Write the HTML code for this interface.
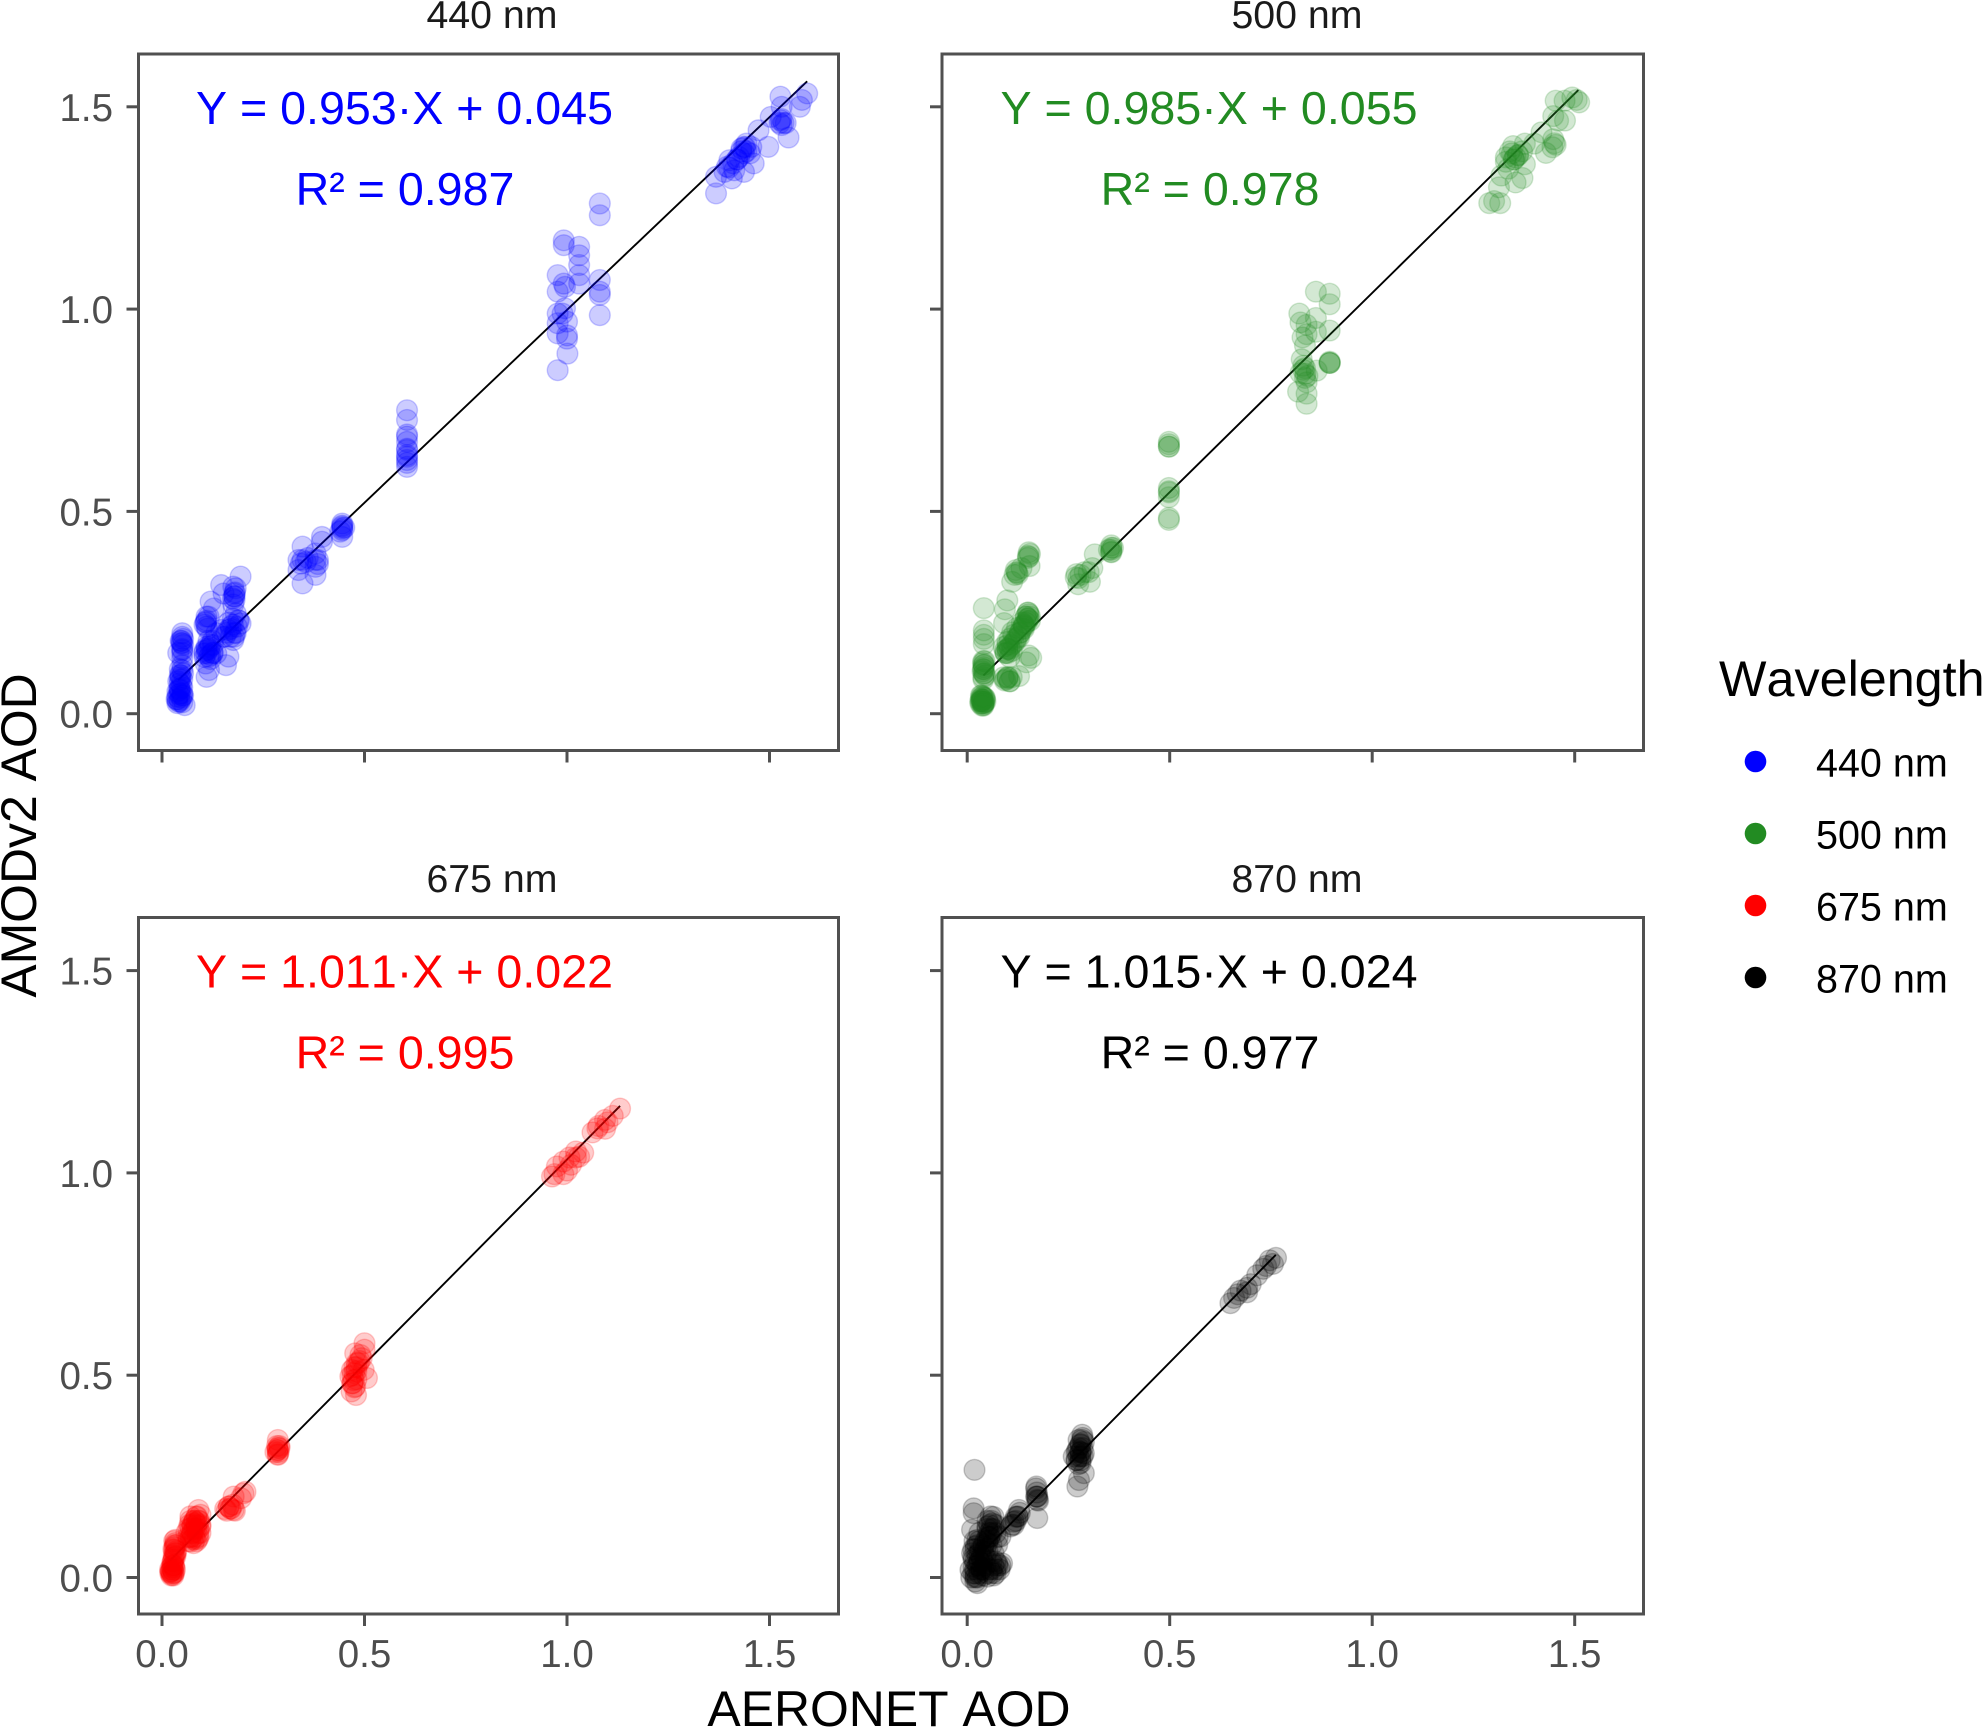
<!DOCTYPE html>
<html lang="en">
<head>
<meta charset="utf-8">
<title>AMODv2 AOD vs AERONET AOD</title>
<style>
html,body{margin:0;padding:0;background:#fff;}
svg{display:block;font-family:"Liberation Sans",Arial,sans-serif;font-kerning:none;}
.frame{fill:none;stroke:#505050;stroke-width:3;}
.title{font-size:39.3px;fill:#1a1a1a;text-anchor:middle;}
.note{font-size:46.6px;text-anchor:middle;}
.tick{font-size:38.5px;fill:#4d4d4d;}
.axis{font-size:49.9px;fill:#000;text-anchor:middle;}
.lg{font-size:39.5px;fill:#000;}
</style>
</head>
<body>
<svg id="chart" xmlns="http://www.w3.org/2000/svg" width="1985" height="1728" viewBox="0 0 1985 1728">
<rect width="1985" height="1728" fill="#fff"/>
<g id="marks"></g>

<rect class="frame" x="138.5" y="54" width="700" height="696.5"/>
<rect class="frame" x="942" y="54" width="701.5" height="696.5"/>
<rect class="frame" x="138.5" y="917.5" width="700" height="696.5"/>
<rect class="frame" x="942" y="917.5" width="701.5" height="696.5"/>

<text class="title" x="492" y="28">440 nm</text>
<text class="title" x="1297" y="28">500 nm</text>
<text class="title" x="492" y="892">675 nm</text>
<text class="title" x="1297" y="892">870 nm</text>

<text class="note" x="404.5" y="124" fill="#0000ff">Y = 0.953·X + 0.045</text>
<text class="note" x="405" y="205" fill="#0000ff">R² = 0.987</text>
<text class="note" x="1209" y="124" fill="#228b22">Y = 0.985·X + 0.055</text>
<text class="note" x="1210" y="205" fill="#228b22">R² = 0.978</text>
<text class="note" x="404.5" y="987.5" fill="#ff0000">Y = 1.011·X + 0.022</text>
<text class="note" x="405" y="1068.5" fill="#ff0000">R² = 0.995</text>
<text class="note" x="1209" y="987.5" fill="#000000">Y = 1.015·X + 0.024</text>
<text class="note" x="1210" y="1068.5" fill="#000000">R² = 0.977</text>

<text class="axis" x="889" y="1726">AERONET AOD</text>
<text class="axis" x="0" y="0" transform="translate(36 835.5) rotate(-90)">AMODv2 AOD</text>

<g>
<text x="1719" y="696" style="font-size:50.3px" fill="#000">Wavelength</text>
<circle cx="1755.5" cy="761.5" r="10.8" fill="#0000ff"/>
<text class="lg" x="1816" y="776.5">440 nm</text>
<circle cx="1755.5" cy="833.5" r="10.8" fill="#228b22"/>
<text class="lg" x="1816" y="848.5">500 nm</text>
<circle cx="1755.5" cy="905.5" r="10.8" fill="#ff0000"/>
<text class="lg" x="1816" y="920.5">675 nm</text>
<circle cx="1755.5" cy="977.5" r="10.8" fill="#000000"/>
<text class="lg" x="1816" y="992.5">870 nm</text>
</g>
</svg>

<script>
const tickValues = [0, 0.5, 1, 1.5];
const tickLabels = ["0.0", "0.5", "1.0", "1.5"];
const wavelengths = ["440", "500", "675", "870"];
const seriesColors = ["#0000ff", "#228b22", "#ff0000", "#000000"];
const fitSlopes = [0.953, 0.985, 1.011, 1.015];
const fitIntercepts = [0.045, 0.055, 0.022, 0.024];
const fitStarts = [0.04, 0.04, 0.02, 0.02];
const fitEnds = [1.593, 1.509, 1.131, 0.762];

const x440 = [1.593,1.58,1.527,1.53,1.575,1.503,1.527,1.53,1.54,1.547,1.473,1.497,1.455,1.437,1.437,1.425,1.401,1.395,1.413,1.437,1.461,1.368,1.368,1.389,1.407,1.443,1.431,1.443,1.452,1.42,
0.977,1.001,1,1,0.977,1,0.977,0.995,0.989,0.977,0.995,0.977,0.977,0.992,1.03,1.03,1.03,1.03,1.03,0.992,0.992,1.081,1.081,1.081,1.081,1.081,1.081,
0.605,0.605,0.605,0.605,0.605,0.605,0.605,0.605,0.605,0.445,0.445,0.445,0.445,0.445,0.395,0.395,0.379,0.379,0.379,0.379,0.347,0.347,0.347,0.337,0.337,0.343,
0.194,0.179,0.179,0.176,0.179,0.146,0.152,0.12,0.128,0.108,0.11,0.11,0.188,0.182,0.194,0.182,0.176,0.164,0.146,0.134,0.112,0.116,0.108,0.11,0.116,0.158,0.164,0.134,0.104,0.118,0.126,0.17,0.178,0.155,0.12,0.11,0.125,
0.05,0.05,0.05,0.05,0.044,0.05,0.044,0.038,0.044,0.056,0.038,0.05,0.044,0.044,0.05,0.038,0.04,0.048,0.042,0.036,0.052,0.05,0.044,0.046,0.04,
0.045,0.05,0.042,0.048,0.04,0.046,0.052,0.038,0.044,0.05,
0.044,0.05,0.046,0.05,0.052,0.048,0.05,0.05,0.048,0.052,
0.105,0.11,0.115,0.12,0.125,0.11,0.115,0.12,0.105,0.125,
0.15,0.16,0.17,0.175,0.18,0.185,0.165,0.175,0.17,0.19,
0.175,0.18,0.178,0.182,0.176,0.105,0.11,0.112,0.108,0.115,
0.445,0.44,0.45,0.605,0.605,0.605,0.385,0.355,0.36,0.385,
1.43,1.44,1.42,1.41,1.4,1.53,1.525,1.535];
const y440 = [1.533,1.517,1.525,1.5,1.5,1.475,1.467,1.455,1.46,1.424,1.442,1.401,1.401,1.401,1.385,1.376,1.368,1.352,1.343,1.339,1.36,1.327,1.286,1.339,1.323,1.409,1.397,1.39,1.385,1.37,
0.849,0.89,0.927,0.935,0.94,0.969,0.989,1.002,0.989,0.965,1.055,1.084,1.043,1.063,1.063,1.084,1.109,1.133,1.154,1.158,1.17,1.261,1.232,0.985,1.035,1.043,1.072,
0.75,0.726,0.685,0.672,0.652,0.639,0.627,0.61,0.69,0.462,0.454,0.437,0.47,0.458,0.437,0.425,0.38,0.363,0.343,0.396,0.413,0.38,0.322,0.38,0.355,0.371,
0.339,0.297,0.281,0.314,0.29,0.318,0.297,0.277,0.26,0.227,0.215,0.24,0.231,0.248,0.223,0.199,0.182,0.207,0.207,0.199,0.157,0.141,0.124,0.091,0.108,0.12,0.141,0.149,0.149,0.165,0.17,0.215,0.19,0.19,0.135,0.16,0.15,
0.199,0.174,0.157,0.137,0.096,0.108,0.058,0.042,0.034,0.021,0.026,0.05,0.075,0.085,0.065,0.055,0.03,0.04,0.048,0.036,0.045,0.028,0.062,0.18,0.15,
0.05,0.045,0.06,0.07,0.08,0.09,0.1,0.035,0.03,0.085,
0.11,0.12,0.095,0.16,0.17,0.18,0.19,0.15,0.175,0.185,
0.14,0.15,0.16,0.17,0.15,0.165,0.18,0.145,0.155,0.18,
0.19,0.2,0.21,0.22,0.2,0.215,0.225,0.235,0.19,0.23,
0.285,0.3,0.29,0.31,0.27,0.22,0.23,0.21,0.225,0.24,
0.465,0.45,0.46,0.635,0.655,0.62,0.38,0.375,0.385,0.37,
1.39,1.4,1.37,1.36,1.35,1.47,1.46,1.46];

const x500 = [1.505,1.494,1.453,1.475,1.511,1.459,1.447,1.476,1.418,1.447,1.453,1.429,1.4,1.377,1.348,1.33,1.36,1.33,1.377,1.371,1.354,1.319,1.336,1.289,1.316,1.301,1.354,1.313,1.34,1.35,
0.861,0.895,0.895,0.895,0.895,0.895,0.895,0.82,0.823,0.861,0.861,0.838,0.838,0.834,0.826,0.823,0.834,0.838,0.817,0.838,0.838,0.863,0.834,0.83,0.828,
0.498,0.498,0.498,0.498,0.498,0.498,0.498,0.498,0.498,0.498,0.356,0.356,0.356,0.356,0.315,0.309,0.303,0.28,0.268,0.274,0.29,
0.152,0.152,0.154,0.123,0.117,0.134,0.111,0.099,0.093,0.041,0.041,0.041,0.041,0.041,
0.152,0.149,0.14,0.123,0.111,0.099,0.093,0.105,0.128,0.091,0.152,0.158,0.146,0.128,0.099,0.093,0.11,0.145,0.135,0.15,0.1,0.115,0.09,0.1,0.13,0.14,0.105,0.095,0.1,0.105,0.155,0.15,
0.041,0.041,0.041,0.037,0.034,0.042,0.037,0.032,0.04,0.036,0.038,0.034,0.044,0.04,0.045,0.04,
0.035,0.038,0.04,0.042,0.036,0.033,0.04,0.037,0.043,0.039,0.035,0.041,
0.04,0.042,0.039,0.041,0.043,0.04,0.038,0.044,0.041,0.039,
0.1,0.105,0.11,0.115,0.12,0.125,0.13,0.135,0.14,0.145,
0.15,0.155,0.15,0.145,0.14,0.095,0.1,0.105,0.11,0.12,
0.095,0.1,0.09,0.105,0.122,0.125,0.12,0.15,0.155,0.15,
0.36,0.355,0.35,0.3,0.275,0.27,0.895,0.835,0.83,0.84,
1.35,1.36,1.345,1.37,1.45,1.445];
const y500 = [1.517,1.523,1.515,1.515,1.511,1.466,1.477,1.466,1.437,1.42,1.406,1.386,1.409,1.409,1.403,1.375,1.381,1.364,1.358,1.324,1.313,1.33,1.347,1.262,1.262,1.267,1.375,1.301,1.39,1.37,
1.043,1.038,1.012,0.947,0.867,0.867,0.867,0.989,0.967,0.978,0.944,0.961,0.938,0.91,0.876,0.842,0.83,0.819,0.796,0.791,0.766,0.848,0.854,0.86,0.93,
0.666,0.66,0.672,0.66,0.558,0.547,0.535,0.55,0.484,0.479,0.416,0.405,0.399,0.41,0.394,0.36,0.326,0.343,0.337,0.32,0.35,
0.399,0.388,0.365,0.348,0.343,0.36,0.326,0.28,0.258,0.261,0.206,0.195,0.172,0.185,
0.246,0.229,0.218,0.212,0.201,0.178,0.155,0.165,0.189,0.224,0.144,0.138,0.127,0.093,0.087,0.082,0.09,0.24,0.225,0.235,0.17,0.195,0.165,0.16,0.2,0.21,0.185,0.15,0.09,0.08,0.23,0.25,
0.121,0.099,0.11,0.031,0.037,0.028,0.042,0.03,0.022,0.035,0.025,0.045,0.038,0.02,0.03,0.13,
0.03,0.035,0.025,0.04,0.045,0.025,0.03,0.02,0.035,0.042,0.032,0.027,
0.09,0.1,0.11,0.12,0.13,0.085,0.105,0.095,0.115,0.125,
0.15,0.16,0.17,0.175,0.185,0.19,0.2,0.21,0.22,0.225,
0.235,0.24,0.25,0.24,0.215,0.15,0.16,0.14,0.155,0.18,
0.085,0.09,0.09,0.08,0.35,0.345,0.355,0.39,0.395,0.385,
0.41,0.4,0.405,0.35,0.335,0.345,0.87,0.84,0.85,0.835,
1.37,1.38,1.385,1.39,1.41,1.4];

const x675 = [0.5,0.5,0.498,0.506,0.493,0.477,0.481,0.469,0.473,0.477,0.479,0.465,0.488,0.47,0.475,0.48,0.468,
0.286,0.286,0.286,0.286,0.288,0.29,0.201,0.206,0.177,0.169,0.156,0.177,0.165,0.195,
0.09,0.086,0.07,0.078,0.095,0.074,0.07,0.09,0.085,0.08,0.075,0.092,0.088,0.065,0.072,0.068,0.095,0.082,0.078,0.085,
0.033,0.03,0.033,0.025,0.022,0.025,0.03,0.02,0.035,0.032,0.028,0.027,0.03,0.024,0.028,
1.131,1.113,1.094,1.078,1.063,1.075,1.022,1.006,0.991,0.975,0.969,0.963,1,1.022,0.991,1.094,1.04,1.03,1.01,1.1,
0.03,0.032,0.028,0.034,0.03,0.033,0.029,0.031,0.035,0.027,0.03,0.032,
0.025,0.022,0.028,0.024,0.02,0.026,0.023,0.027,
0.065,0.07,0.075,0.08,0.085,0.09,0.095,0.07,0.075,0.08,0.085,0.09,0.065,0.07,0.08,0.09,0.095,0.085,0.075,0.06,
0.28,0.285,0.29,0.286,0.284,0.16,0.17,0.165,0.175,0.18,
0.47,0.475,0.48,0.47,0.485,0.49,0.48,0.475];
const y675 = [0.579,0.563,0.513,0.493,0.542,0.554,0.53,0.513,0.488,0.472,0.451,0.497,0.535,0.48,0.505,0.52,0.46,
0.34,0.32,0.315,0.303,0.31,0.325,0.208,0.212,0.2,0.171,0.169,0.167,0.176,0.196,
0.167,0.151,0.151,0.134,0.126,0.11,0.089,0.11,0.12,0.14,0.125,0.14,0.095,0.12,0.1,0.13,0.155,0.095,0.085,0.135,
0.093,0.068,0.052,0.035,0.015,0.007,0.025,0.02,0.08,0.06,0.045,0.03,0.012,0.01,0.005,
1.159,1.141,1.131,1.116,1.1,1.11,1.053,1.038,1.028,1.016,0.997,0.991,1.006,1.038,0.997,1.109,1.05,1.04,1.02,1.125,
0.09,0.08,0.07,0.06,0.05,0.085,0.055,0.075,0.065,0.04,0.03,0.02,
0.02,0.015,0.01,0.025,0.012,0.03,0.005,0.018,
0.09,0.1,0.11,0.12,0.13,0.14,0.13,0.12,0.13,0.14,0.15,0.12,0.1,0.14,0.1,0.1,0.11,0.09,0.095,0.11,
0.31,0.315,0.32,0.305,0.325,0.165,0.17,0.175,0.18,0.165,
0.5,0.52,0.49,0.48,0.53,0.55,0.51,0.47];

const x870 = [0.018,0.016,0.016,0.012,
0.284,0.284,0.28,0.272,0.28,0.263,0.288,0.28,0.288,0.276,0.272,0.288,0.28,0.275,0.27,0.285,
0.171,0.173,0.173,0.173,0.128,0.124,0.115,0.107,0.12,
0.058,0.062,0.05,0.054,0.082,0.025,0.021,0.012,0.016,0.016,0.021,0.025,0.074,0.082,0.086,0.062,0.05,0.041,0.008,0.033,0.05,0.074,0.037,0.02,0.028,0.045,0.055,0.03,0.015,0.025,0.06,0.065,0.04,0.02,0.035,0.05,0.03,0.018,0.045,0.07,0.04,
0.7625,0.747,0.731,0.716,0.691,0.675,0.659,0.65,0.691,0.755,0.738,0.7,0.668,
0.01,0.015,0.02,0.025,0.03,0.035,0.04,0.02,0.025,0.03,0.035,0.015,0.02,0.025,0.03,0.04,0.045,0.05,0.02,0.03,
0.05,0.055,0.06,0.065,0.07,0.06,0.055,0.05,0.065,0.07,0.045,0.05,0.06,0.075,
0.06,0.065,0.07,0.075,0.08,0.07,0.06,0.065,0.05,0.055,
0.27,0.275,0.28,0.285,0.28,0.275,0.285,0.27,0.28,0.275,
0.125,0.13,0.12,0.115,0.11,0.17,0.172,0.175,0.17,0.172];
const y870 = [0.266,0.171,0.159,0.118,
0.353,0.34,0.328,0.315,0.299,0.299,0.307,0.283,0.258,0.241,0.225,0.335,0.31,0.32,0.29,0.345,
0.225,0.2,0.192,0.147,0.167,0.151,0.138,0.126,0.15,
0.151,0.134,0.126,0.11,0.101,0.093,0.077,0.06,0.044,0.027,0.002,-0.014,0.035,0.03,0.035,0.011,0.002,0.019,0.019,0.068,0.085,0.081,0.044,0.01,0.03,0.05,0.1,0.11,0.07,0.055,0.12,0.06,0.075,0,0.02,0.065,0.04,0.09,0.03,0.02,0.005,
0.79,0.784,0.763,0.747,0.716,0.709,0.691,0.678,0.705,0.775,0.77,0.725,0.7,
0,0.01,0.02,0.03,0.04,0.05,0.06,-0.01,0,0.01,0.02,0.05,0.07,0.08,0.09,0.08,0.09,0.1,0.04,0.06,
0.12,0.13,0.14,0.15,0.13,0.11,0.1,0.09,0.12,0.11,0.07,0.14,0.08,0.1,
0.02,0.03,0.04,0.03,0.02,0.01,0.04,0.005,0.01,0.02,
0.29,0.3,0.31,0.32,0.33,0.34,0.3,0.31,0.29,0.28,
0.15,0.16,0.14,0.13,0.13,0.2,0.21,0.19,0.22,0.2];

const seriesX = [x440, x500, x675, x870];
const seriesY = [y440, y500, y675, y870];

const SVGNS = "http://www.w3.org/2000/svg";
const marks = document.getElementById("marks");
const plotLeft = [162, 967.2, 162, 967.2];
const plotZero = [713.7, 713.7, 1577.5, 1577.5];
const plotBottom = [750.5, 750.5, 1614, 1614];
const plotEdge = [138.5, 942, 138.5, 942];
const unitX = 405;
const unitY = 404.6;

function scaleX(panel, v) { return plotLeft[panel] + v * unitX; }
function scaleY(panel, v) { return plotZero[panel] - v * unitY; }

for (let p = 0; p < 4; p++) {
  const w = wavelengths[p];

  const fit = document.createElementNS(SVGNS, "line");
  fit.setAttribute("x1", scaleX(p, fitStarts[p]));
  fit.setAttribute("y1", scaleY(p, fitSlopes[p] * fitStarts[p] + fitIntercepts[p]));
  fit.setAttribute("x2", scaleX(p, fitEnds[p]));
  fit.setAttribute("y2", scaleY(p, fitSlopes[p] * fitEnds[p] + fitIntercepts[p]));
  fit.setAttribute("stroke", "#000");
  fit.setAttribute("stroke-width", "1.9");
  
  
  marks.appendChild(fit);

  const xs = seriesX[p];
  const ys = seriesY[p];
  const n = Math.min(xs.length, ys.length);
  for (let i = 0; i < n; i++) {
    const c = document.createElementNS(SVGNS, "circle");
    c.setAttribute("cx", scaleX(p, xs[i]));
    c.setAttribute("cy", scaleY(p, ys[i]));
    c.setAttribute("r", "10.4");
    c.setAttribute("fill", seriesColors[p]);
    c.setAttribute("fill-opacity", "0.2");
    c.setAttribute("stroke", seriesColors[p]);
    c.setAttribute("stroke-opacity", "0.2");
    c.setAttribute("stroke-width", "1.4");
    
    
    marks.appendChild(c);
  }

  for (let t = 0; t < tickValues.length; t++) {
    const xt = document.createElementNS(SVGNS, "line");
    const px = scaleX(p, tickValues[t]);
    xt.setAttribute("x1", px);
    xt.setAttribute("x2", px);
    xt.setAttribute("y1", plotBottom[p]);
    xt.setAttribute("y2", plotBottom[p] + 12);
    xt.setAttribute("stroke", "#505050");
    xt.setAttribute("stroke-width", "3");
    
    
    marks.appendChild(xt);

    const yt = document.createElementNS(SVGNS, "line");
    const py = scaleY(p, tickValues[t]);
    yt.setAttribute("y1", py);
    yt.setAttribute("y2", py);
    yt.setAttribute("x1", plotEdge[p]);
    yt.setAttribute("x2", plotEdge[p] - 12);
    yt.setAttribute("stroke", "#505050");
    yt.setAttribute("stroke-width", "3");
    
    
    marks.appendChild(yt);

    if (p >= 2) {
      const xl = document.createElementNS(SVGNS, "text");
      xl.setAttribute("class", "tick");
      xl.setAttribute("x", px);
      xl.setAttribute("y", plotBottom[p] + 53);
      xl.setAttribute("text-anchor", "middle");
      
      
      xl.textContent = tickLabels[t];
      marks.appendChild(xl);
    }
    if (p % 2 === 0) {
      const yl = document.createElementNS(SVGNS, "text");
      yl.setAttribute("class", "tick");
      yl.setAttribute("x", 113);
      yl.setAttribute("y", py + 14);
      yl.setAttribute("text-anchor", "end");
      
      
      yl.textContent = tickLabels[t];
      marks.appendChild(yl);
    }
  }
}
</script>
</body>
</html>
